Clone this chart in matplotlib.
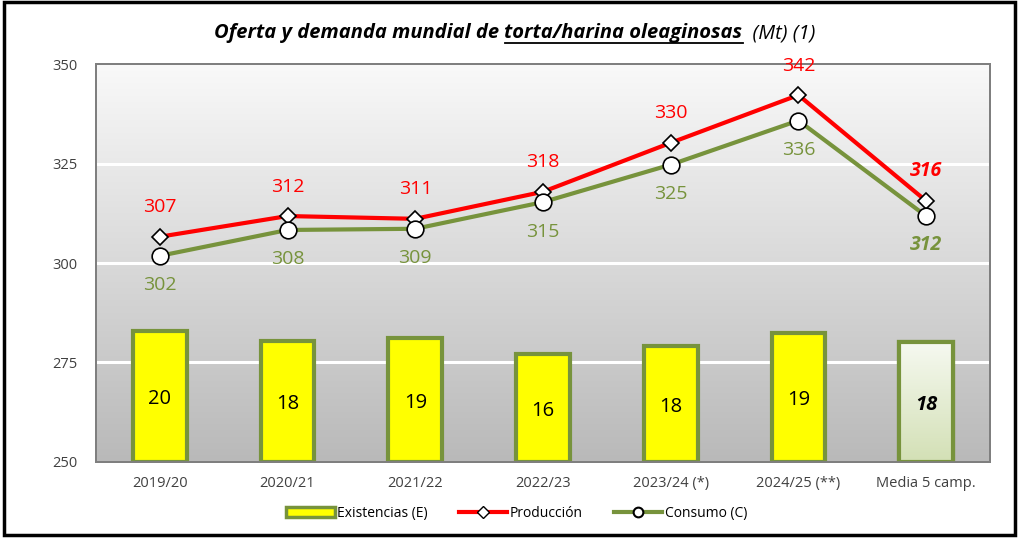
import numpy as np
import matplotlib.pyplot as plt
from matplotlib.patches import Rectangle
from matplotlib.lines import Line2D

plt.rcParams['font.family'] = ['Open Sans', 'DejaVu Sans']

campanas = ['2019/20', '2020/21', '2021/22', '2022/23', '2023/24 (*)', '2024/25 (**)', 'Media 5 camp.']
existencias = [19.8, 18.2, 18.7, 16.3, 17.5, 19.4, 18.1]
existencias_lbl = ['20', '18', '19', '16', '18', '19', '18']
produccion = [306.6, 311.8, 311.1, 317.9, 330.2, 342.2, 315.6]
produccion_lbl = ['307', '312', '311', '318', '330', '342', '316']
consumo = [301.8, 308.3, 308.6, 315.3, 324.7, 335.8, 311.8]
consumo_lbl = ['302', '308', '309', '315', '325', '336', '312']

ROJO = '#ff0000'
VERDE = '#77933c'
AMARILLO = '#ffff00'


def main():
    fig = plt.figure(figsize=(10.19, 5.38), dpi=100)
    ax = fig.add_axes([0.0942, 0.1413, 0.8773, 0.7397])
    x = np.arange(len(campanas))

    # fondo degradado gris
    grad = np.linspace(0, 1, 256).reshape(-1, 1)
    ax.imshow(grad, cmap=plt.matplotlib.colors.LinearSegmentedColormap.from_list('g', ['#f9f9f9', '#b9b9b9']),
              extent=[-0.5, len(campanas) - 0.5, 250, 350], aspect='auto', zorder=0)
    ax.set_xlim(-0.5, len(campanas) - 0.5)
    ax.set_ylim(250, 350)
    for yv in [275, 300, 325]:
        ax.axhline(yv, color='white', lw=2.2, zorder=1)

    # barras en eje secundario
    ax2 = ax.twinx()
    ax2.set_ylim(0, 60)
    ax2.set_yticks([])
    colores = [AMARILLO] * 6 + ['#e6eedb']
    bars = ax2.bar(x, existencias, width=0.42, color=colores, edgecolor=VERDE, linewidth=3, zorder=2)
    # degradado en la barra media
    b = bars[-1]
    grad_b = np.linspace(0, 1, 256).reshape(-1, 1)
    im = ax2.imshow(grad_b, cmap=plt.matplotlib.colors.LinearSegmentedColormap.from_list('b', ['#f6f9f1', '#d3e0b5']),
                    extent=[b.get_x(), b.get_x() + b.get_width(), 0, b.get_height()], aspect='auto', zorder=2)
    im.set_clip_path(b)
    ax2.bar([x[-1]], [existencias[-1]], width=0.42, color='none', edgecolor=VERDE, linewidth=3, zorder=3)
    ax2.set_xlim(-0.5, len(campanas) - 0.5)
    for i, (v, t) in enumerate(zip(existencias, existencias_lbl)):
        media = i == len(campanas) - 1
        ax2.text(i, v / 2 - 0.4, t, ha='center', va='center', fontsize=14.5,
                 fontweight='bold' if media else 'normal', fontstyle='italic' if media else 'normal', zorder=4)

    # lineas en eje principal por encima
    ax3 = ax.twinx()
    ax3.set_ylim(250, 350)
    ax3.set_xlim(-0.5, len(campanas) - 0.5)
    ax3.set_yticks([])
    ax3.plot(x, produccion, color=ROJO, lw=3, marker='D', ms=8, mfc='white', mec='black', mew=1.2, zorder=5)
    ax3.plot(x, consumo, color=VERDE, lw=3, marker='o', ms=12, mfc='white', mec='black', mew=1.2, zorder=5)
    for i in range(len(campanas)):
        media = i == len(campanas) - 1
        w = 'bold' if media else 'normal'
        s = 'italic' if media else 'normal'
        ax3.text(i, produccion[i] + 7.4, produccion_lbl[i], ha='center', va='center', color=ROJO,
                 fontsize=14, fontweight=w, fontstyle=s)
        ax3.text(i, consumo[i] - 7.4, consumo_lbl[i], ha='center', va='center', color=VERDE,
                 fontsize=14, fontweight=w, fontstyle=s)

    for a in (ax, ax2, ax3):
        for sp in a.spines.values():
            sp.set_color('#7f7f7f')
            sp.set_linewidth(1.2)
    ax.set_yticks([250, 275, 300, 325, 350])
    ax.set_xticks(x)
    ax.set_xticklabels(campanas, fontsize=10.5, color='#404040')
    ax.tick_params(axis='y', labelsize=10.5, length=0, pad=13, colors='#404040')
    ax.tick_params(axis='x', length=0, pad=10)

    # titulo con subrayado parcial
    fig.canvas.draw()
    r = fig.canvas.get_renderer()
    partes = [('Oferta y demanda mundial de ', 'bold', False),
              ('torta/harina oleaginosas', 'bold', True),
              ('  (Mt) (1)', 'normal', False)]
    yt = 1 - 38 / 538
    textos = []
    for p, w, u in partes:
        t = fig.text(0, yt, p, fontsize=14.5, fontstyle='italic', fontweight=w, va='baseline')
        textos.append((t, u))
    anchos = [t.get_window_extent(r).width for t, _ in textos]
    total = sum(anchos)
    x0 = (515 - total / 2)
    for (t, u), wd in zip(textos, anchos):
        t.set_x(x0 / fig.bbox.width)
        if u:
            yb = yt - 4.5 / fig.bbox.height
            fig.add_artist(Line2D([x0 / fig.bbox.width, (x0 + wd) / fig.bbox.width], [yb, yb],
                                  color='black', lw=1.3))
        x0 += wd

    handles = [
        Rectangle((0, 0), 1, 1, facecolor=AMARILLO, edgecolor=VERDE, linewidth=2.5),
        Line2D([], [], color=ROJO, lw=3, marker='D', ms=6, mfc='white', mec='black'),
        Line2D([], [], color=VERDE, lw=3, marker='o', ms=7, mfc='white', mec='black', mew=1.5),
    ]
    fig.legend(handles, ['Existencias (E)', 'Producción', 'Consumo (C)'], loc='center',
               bbox_to_anchor=(0.507, 0.046), ncol=3, frameon=False, fontsize=10,
               handlelength=3.5, columnspacing=2.2, handletextpad=0.2)

    fig.add_artist(Rectangle((0.004, 0.006), 0.992, 0.99, transform=fig.transFigure,
                             fill=False, edgecolor='black', lw=2.5))
    fig.savefig('out.png', dpi=100)


if __name__ == "__main__":
    main()
